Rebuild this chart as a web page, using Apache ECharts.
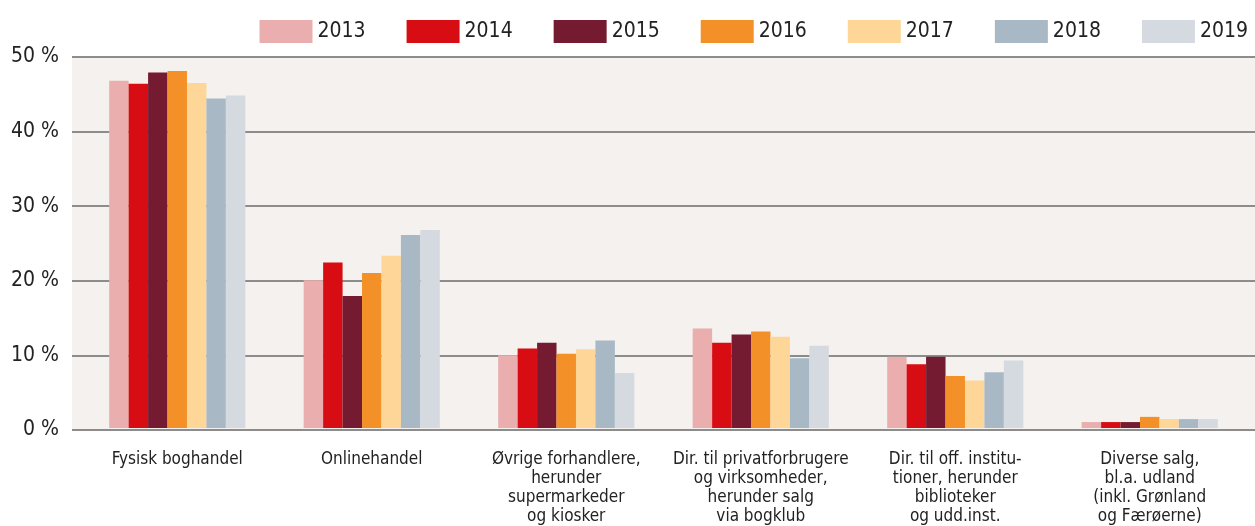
<!DOCTYPE html>
<html lang="da">
<head>
    <meta charset="UTF-8">
    <title>Salgskanaler</title>
    <script src="https://cdn.jsdelivr.net/npm/echarts@6/dist/echarts.min.js"></script>
</head>
<body style="margin:0; background:#fff;">
    <div id="chart" style="width:1255px; height:526px;"></div>
    <script>
        // Data
        var categories = [
            'Fysisk boghandel',
            'Onlinehandel',
            'Øvrige forhandlere,\nherunder\nsupermarkeder\nog kiosker',
            'Dir. til privatforbrugere\nog virksomheder,\nherunder salg\nvia bogklub',
            'Dir. til off. institu-\ntioner, herunder\nbiblioteker\nog udd.inst.',
            'Diverse salg,\nbl.a. udland\n(inkl. Grønland\nog Færøerne)'
        ];
        var years = ['2013', '2014', '2015', '2016', '2017', '2018', '2019'];
        var v2013 = [46.8, 19.9, 9.8, 13.4, 9.6, 0.8];
        var v2014 = [46.4, 22.3, 10.7, 11.5, 8.6, 0.8];
        var v2015 = [47.9, 17.8, 11.5, 12.6, 9.6, 0.8];
        var v2016 = [48.1, 20.9, 10.0, 13.0, 7.0, 1.5];
        var v2017 = [46.5, 23.2, 10.6, 12.3, 6.4, 1.2];
        var v2018 = [44.4, 26.0, 11.8, 9.4, 7.5, 1.2];
        var v2019 = [44.8, 26.7, 7.4, 11.1, 9.1, 1.2];
        var yTicks = [0, 10, 20, 30, 40, 50];

        var values = [v2013, v2014, v2015, v2016, v2017, v2018, v2019];
        var colors = ['#eaaeae', '#d80c13', '#741b32', '#f39128', '#fdd698', '#a8b8c4', '#d5d9e0'];
        var font = "'DejaVu Sans Condensed', 'Liberation Sans Narrow', sans-serif";

        var chart = echarts.init(document.getElementById('chart'));

        var series = years.map(function (y, i) {
            return {
                name: y,
                type: 'bar',
                xAxisIndex: 1,
                yAxisIndex: 1,
                data: values[i],
                itemStyle: { color: colors[i] },
                barGap: '0%',
                barCategoryGap: '30%'
            };
        });

        chart.setOption({
            animation: false,
            color: colors,
            legend: {
                data: years,
                right: 2,
                top: 15,
                icon: 'rect',
                itemWidth: 53,
                itemHeight: 23,
                itemGap: 41,
                textStyle: { fontFamily: font, fontSize: 21, color: '#222' }
            },
            grid: [
                // background + gridlines span the full width
                { left: 72, right: 0, top: 57, bottom: 96, show: true, backgroundColor: '#f5f1ee', borderWidth: 0 },
                // bars
                { left: 80, right: 8, top: 57, bottom: 96 }
            ],
            xAxis: [
                { type: 'value', gridIndex: 0, show: false },
                {
                    type: 'category',
                    gridIndex: 1,
                    data: categories,
                    axisLine: { show: false },
                    axisTick: { show: false },
                    axisLabel: {
                        fontFamily: font,
                        fontSize: 17,
                        lineHeight: 19,
                        color: '#222',
                        margin: 22,
                        interval: 0,
                        align: 'center'
                    }
                }
            ],
            yAxis: [
                {
                    type: 'value',
                    gridIndex: 0,
                    min: yTicks[0],
                    max: yTicks[yTicks.length - 1],
                    interval: 10,
                    axisLine: { show: false },
                    axisTick: { show: false },
                    splitLine: { lineStyle: { color: '#8c8c8c', width: 2 } },
                    axisLabel: {
                        fontFamily: font,
                        fontSize: 21,
                        color: '#222',
                        margin: 13,
                        padding: [6, 0, 0, 0],
                        formatter: '{value} %'
                    }
                },
                {
                    type: 'value',
                    gridIndex: 1,
                    min: yTicks[0],
                    max: yTicks[yTicks.length - 1],
                    interval: 10,
                    show: false,
                    splitLine: { show: false }
                }
            ],
            series: series
        });
    </script>
</body>
</html>
